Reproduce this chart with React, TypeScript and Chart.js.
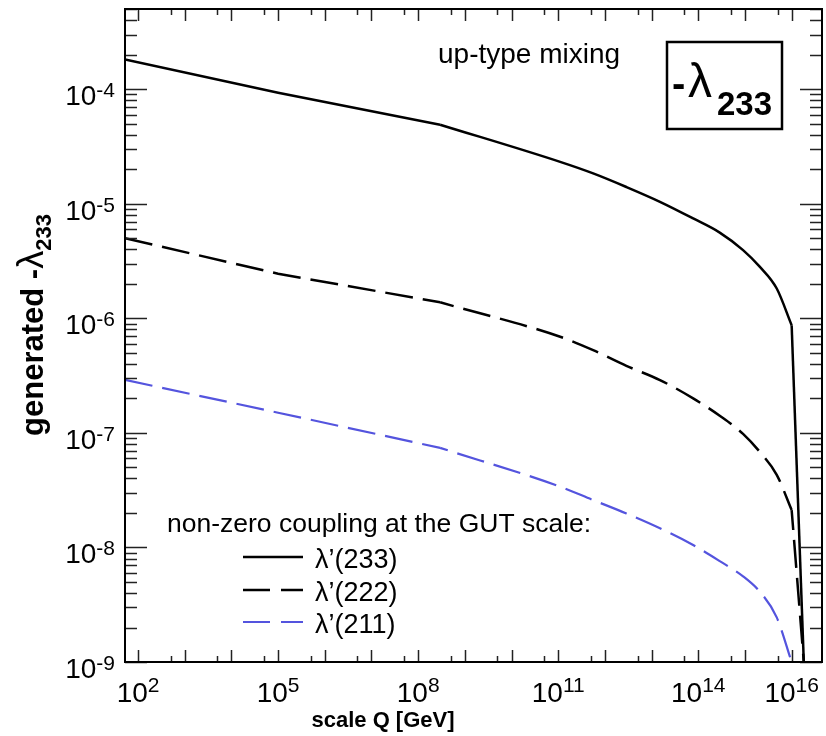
import React, { useEffect, useRef } from "react";
import { Chart, registerables } from "chart.js";

Chart.register(...registerables);

// Renormalisation scale Q [GeV]
const scaleQ = [52.5, 1e5, 2.95e8, 1.1e11, 5.6e11, 2.88e12, 1.51e13, 7.76e13, 2.88e14, 9.1e14, 2.09e15, 4.79e15, 1.0e16, 1.82e16];
// generated -lambda_233 for each non-zero GUT-scale coupling
const lam233 = [1.82e-4, 9.3e-5, 4.9e-5, 2.32e-5, 1.84e-5, 1.4e-5, 1.04e-5, 7.44e-6, 5.6e-6, 3.94e-6, 2.81e-6, 1.82e-6, 8.7e-7, 1.0e-9];
const lam222 = [5.0e-6, 2.45e-6, 1.38e-6, 6.9e-7, 5.27e-7, 3.85e-7, 2.89e-7, 2.0e-7, 1.41e-7, 9.8e-8, 6.8e-8, 4.3e-8, 2.12e-8, 1.0e-9];
const lam211 = [2.9e-7, 1.5e-7, 7.4e-8, 3.39e-8, 2.59e-8, 1.98e-8, 1.47e-8, 1.05e-8, 7.6e-9, 5.6e-9, 4.1e-9, 2.45e-9, 1.0e-9, null];

const seriesLabels = ["λ’(233)", "λ’(222)", "λ’(211)"];
const xTickExponents = [2, 5, 8, 11, 14, 16];
const yTickExponents = [-9, -8, -7, -6, -5, -4];

const BLUE = "rgb(84,84,222)";
const FONT = "'Liberation Sans', Arial, Helvetica, sans-serif";

const toPoints = (vals: (number | null)[]) =>
  scaleQ.map((q, i) => ({ x: q, y: vals[i] }));

// sparse low-scale part (straight), dense running part (smooth), final drop at the GUT scale (straight)
const lowPart = (vals: (number | null)[]) => toPoints(vals).slice(0, 3);
const midPart = (vals: (number | null)[], end: number) => toPoints(vals).slice(2, end);
const dropPart = (vals: (number | null)[]) => toPoints(vals).slice(vals.length - 2);

const overlayPlugin = {
  id: "overlay",
  afterDraw(chart: any) {
    const ctx: CanvasRenderingContext2D = chart.ctx;
    const a = chart.chartArea;
    const xs = chart.scales.x;
    const ys = chart.scales.y;
    ctx.save();

    // ticks
    ctx.strokeStyle = "#222";
    ctx.lineWidth = 1.5;
    ctx.beginPath();
    for (let e = -10; e <= -3; e++) {
      for (let m = 1; m <= 9; m++) {
        const v = m * Math.pow(10, e);
        if (v < ys.min * 0.999 || v > ys.max) continue;
        const py = Math.round(ys.getPixelForValue(v)) + 0.5;
        const len = m === 1 ? 22 : 12;
        ctx.moveTo(a.left, py);
        ctx.lineTo(a.left + len, py);
        ctx.moveTo(a.right, py);
        ctx.lineTo(a.right - len, py);
      }
    }
    for (let e = 1; e <= 17; e++) {
      for (const m of [1, 5]) {
        const v = m * Math.pow(10, e);
        if (v < xs.min || v > xs.max) continue;
        const px = Math.round(xs.getPixelForValue(v)) + 0.5;
        const len = m === 1 ? 12 : 6;
        ctx.moveTo(px, a.bottom);
        ctx.lineTo(px, a.bottom - len);
        ctx.moveTo(px, a.top);
        ctx.lineTo(px, a.top + len);
      }
    }
    ctx.stroke();

    // frame
    ctx.strokeStyle = "#000";
    ctx.lineWidth = 2;
    ctx.strokeRect(a.left, a.top, a.right - a.left, a.bottom - a.top);

    // tick labels
    ctx.fillStyle = "#000";
    ctx.textBaseline = "alphabetic";
    const baseFont = `28px ${FONT}`;
    const supFont = `21px ${FONT}`;
    for (const e of yTickExponents) {
      const py = ys.getPixelForValue(Math.pow(10, e));
      const sup = `${e}`;
      ctx.font = supFont;
      const sw = ctx.measureText(sup).width;
      ctx.textAlign = "left";
      const right = 115;
      ctx.fillText(sup, right - sw, py + 8);
      ctx.font = baseFont;
      const bw = ctx.measureText("10").width;
      ctx.fillText("10", right - sw - bw, py + 16);
    }
    for (const e of xTickExponents) {
      const px = xs.getPixelForValue(Math.pow(10, e));
      const sup = `${e}`;
      ctx.font = supFont;
      const sw = ctx.measureText(sup).width;
      ctx.font = baseFont;
      const bw = ctx.measureText("10").width;
      const x0 = px - (sw + bw) / 2;
      ctx.textAlign = "left";
      ctx.fillText("10", x0, 702);
      ctx.font = supFont;
      ctx.fillText(sup, x0 + bw, 692);
    }

    // x title
    ctx.font = `bold 22px ${FONT}`;
    ctx.textAlign = "center";
    ctx.fillText("scale Q [GeV]", 383, 727);

    // y title (rotated)
    ctx.save();
    ctx.translate(43, 325);
    ctx.rotate(-Math.PI / 2);
    ctx.textAlign = "left";
    const p1 = "generated -";
    const p2 = "λ";
    const p3 = "233";
    ctx.font = `bold 31px ${FONT}`;
    const w1 = ctx.measureText(p1).width;
    ctx.font = `36px ${FONT}`;
    const w2 = ctx.measureText(p2).width;
    ctx.font = `bold 22px ${FONT}`;
    const w3 = ctx.measureText(p3).width;
    let cx = -(w1 + w2 + w3) / 2;
    ctx.font = `bold 31px ${FONT}`;
    ctx.fillText(p1, cx, 0);
    cx += w1;
    ctx.font = `36px ${FONT}`;
    ctx.fillText(p2, cx, 0);
    cx += w2;
    ctx.font = `bold 22px ${FONT}`;
    ctx.fillText(p3, cx, 8);
    ctx.restore();

    // annotation: up-type mixing
    ctx.font = `28px ${FONT}`;
    ctx.textAlign = "left";
    ctx.fillText("up-type mixing", 438, 63);

    // boxed label
    ctx.lineWidth = 2.5;
    ctx.strokeRect(667, 42, 115, 87);
    ctx.font = `bold 40px ${FONT}`;
    ctx.fillText("-", 672, 97);
    ctx.font = `48px ${FONT}`;
    ctx.fillText("λ", 688, 97);
    ctx.font = `bold 33px ${FONT}`;
    ctx.fillText("233", 717, 115);

    // legend
    ctx.font = `26.5px ${FONT}`;
    ctx.fillText("non-zero coupling at the GUT scale:", 167, 532);
    const rows = [
      { y: 557, color: "#000", dash: [] as number[], w: 2.5 },
      { y: 590, color: "#000", dash: [27, 11], w: 2.5 },
      { y: 622, color: BLUE, dash: [27, 11], w: 2.2 },
    ];
    ctx.font = `27px ${FONT}`;
    rows.forEach((r, i) => {
      ctx.strokeStyle = r.color;
      ctx.lineWidth = r.w;
      ctx.setLineDash(r.dash);
      ctx.beginPath();
      ctx.moveTo(243, r.y);
      ctx.lineTo(303, r.y);
      ctx.stroke();
      ctx.setLineDash([]);
      ctx.fillStyle = "#000";
      ctx.fillText(seriesLabels[i], 315, r.y + 11);
    });

    ctx.restore();
  },
};

export default function App() {
  const ref = useRef<HTMLCanvasElement>(null);
  useEffect(() => {
    if (!ref.current) return;
    const common = { pointRadius: 0, spanGaps: false };
    const solid = { ...common, borderColor: "#000", borderWidth: 2.5 };
    const dashed = { ...common, borderColor: "#000", borderWidth: 2.5, borderDash: [28, 10] };
    const blue = { ...common, borderColor: BLUE, borderWidth: 2.2, borderDash: [28, 10] };
    const n = lam233.length;
    const chart = new Chart(ref.current, {
      type: "line",
      data: {
        datasets: [
          { ...solid, label: seriesLabels[0], data: lowPart(lam233) as any, tension: 0 },
          { ...solid, label: seriesLabels[0], data: midPart(lam233, n - 1) as any, cubicInterpolationMode: "monotone" },
          { ...solid, label: seriesLabels[0], data: dropPart(lam233) as any, tension: 0 },
          { ...dashed, label: seriesLabels[1], data: lowPart(lam222) as any, tension: 0 },
          { ...dashed, label: seriesLabels[1], data: midPart(lam222, n - 1) as any, borderDashOffset: 14, cubicInterpolationMode: "monotone" },
          { ...dashed, label: seriesLabels[1], data: dropPart(lam222) as any, borderDashOffset: 8, tension: 0 },
          { ...blue, label: seriesLabels[2], data: lowPart(lam211) as any, tension: 0 },
          { ...blue, label: seriesLabels[2], data: midPart(lam211, n) as any, borderDashOffset: 20, cubicInterpolationMode: "monotone" },
        ],
      },
      options: {
        animation: false,
        responsive: false,
        devicePixelRatio: 1,
        layout: { padding: { top: 9, right: 4, left: 0, bottom: 0 } },
        plugins: { legend: { display: false }, tooltip: { enabled: false } },
        scales: {
          x: {
            type: "logarithmic",
            min: Math.pow(10, 1.72),
            max: Math.pow(10, 16.65),
            ticks: { display: false },
            grid: { display: false },
            border: { display: false },
            afterFit: (s: any) => {
              s.height = 74;
            },
          },
          y: {
            type: "logarithmic",
            min: 1e-9,
            max: Math.pow(10, -3.3),
            ticks: { display: false },
            grid: { display: false },
            border: { display: false },
            afterFit: (s: any) => {
              s.width = 125;
            },
          },
        },
      },
      plugins: [overlayPlugin],
    });
    return () => chart.destroy();
  }, []);
  return (
    <div style={{ position: "absolute", left: 0, top: 0, width: 826, height: 736, background: "#fff" }}>
      <canvas ref={ref} width={826} height={736} style={{ display: "block" }} />
    </div>
  );
}
